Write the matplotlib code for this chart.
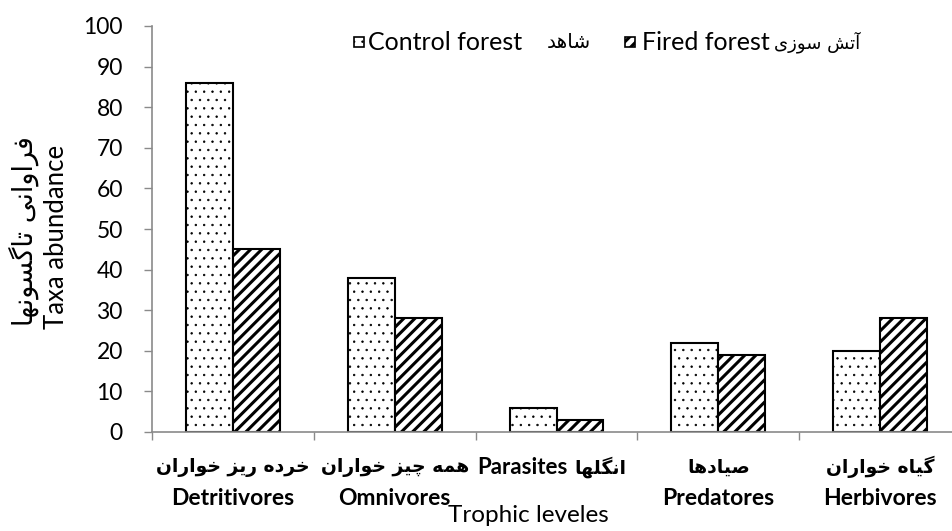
import matplotlib
matplotlib.use("Agg")
import matplotlib.pyplot as plt
from matplotlib.patches import Rectangle
import numpy as np

plt.rcParams["font.family"] = ["Lato", "DejaVu Sans"]

# ── Data ──────────────────────────────────────────────────
cat_en = ["Detritivores", "Omnivores", "Parasites", "Predatores", "Herbivores"]
cat_fa = ["خرده ریز خواران", "همه چیز خواران", "انگلها", "صیادها", "گیاه خواران"]
control = [86, 38, 6, 22, 20]
fired = [45, 28, 3, 19, 28]
yticks = [0, 10, 20, 30, 40, 50, 60, 70, 80, 90, 100]

# ── Minimal Persian shaping (presentation forms, visual order) ──
# letter: (isolated, final, initial, medial) ; None = right-joining only
FORMS = {
    "ا": ("\uFE8D", "\uFE8E", None, None),
    "آ": ("\uFE81", "\uFE82", None, None),
    "د": ("\uFEA9", "\uFEAA", None, None),
    "ر": ("\uFEAD", "\uFEAE", None, None),
    "ز": ("\uFEAF", "\uFEB0", None, None),
    "و": ("\uFEED", "\uFEEE", None, None),
    "ش": ("\uFEB5", "\uFEB6", "\uFEB7", "\uFEB8"),
    "ه": ("\uFEE9", "\uFEEA", "\uFEEB", "\uFEEC"),
    "ت": ("\uFE95", "\uFE96", "\uFE97", "\uFE98"),
    "س": ("\uFEB1", "\uFEB2", "\uFEB3", "\uFEB4"),
    "ی": ("\uFBFC", "\uFBFD", "\uFBFE", "\uFBFF"),
    "ف": ("\uFED1", "\uFED2", "\uFED3", "\uFED4"),
    "ن": ("\uFEE5", "\uFEE6", "\uFEE7", "\uFEE8"),
    "گ": ("\uFB92", "\uFB93", "\uFB94", "\uFB95"),
    "خ": ("\uFEA5", "\uFEA6", "\uFEA7", "\uFEA8"),
    "م": ("\uFEE1", "\uFEE2", "\uFEE3", "\uFEE4"),
    "چ": ("\uFB7A", "\uFB7B", "\uFB7C", "\uFB7D"),
    "ل": ("\uFEDD", "\uFEDE", "\uFEDF", "\uFEE0"),
    "ص": ("\uFEB9", "\uFEBA", "\uFEBB", "\uFEBC"),
}


def fa(s):
    out = []
    for i, c in enumerate(s):
        if c not in FORMS:
            out.append(c)
            continue
        dual = FORMS[c][2] is not None
        prev = s[i - 1] if i > 0 else ""
        nxt = s[i + 1] if i + 1 < len(s) else ""
        pj = prev in FORMS and FORMS[prev][2] is not None
        nj = dual and nxt in FORMS
        if pj and nj:
            out.append(FORMS[c][3])
        elif pj:
            out.append(FORMS[c][1])
        elif nj:
            out.append(FORMS[c][2])
        else:
            out.append(FORMS[c][0])
    return "".join(reversed(out))


def set_hatch_lw(patches, lw):
    # hatch width: per-patch setter if present, else rc value at draw time
    for p in patches:
        if hasattr(p, "set_hatch_linewidth"):
            p.set_hatch_linewidth(lw)
        else:
            p._hatch_linewidth = lw
        orig = p.draw

        def draw(renderer, _orig=orig):
            with plt.rc_context({"hatch.linewidth": lw}):
                _orig(renderer)
        p.draw = draw


# ── Figure ────────────────────────────────────────────────
GREY = "#8a8a8a"
DOT_LW, STRIPE_LW = 0.5, 2.2
W, H = 953, 531
fig = plt.figure(figsize=(W / 100, H / 100), dpi=100, facecolor="white")
ax = fig.add_axes([152 / W, 1 - 432 / H, 809 / W, 406 / H])

x = np.arange(len(cat_en))
w = 0.29
b1 = ax.bar(x - w / 2, control, w, color="white", edgecolor="black",
            linewidth=1.5, hatch="..", zorder=2)
b2 = ax.bar(x + w / 2, fired, w, color="white", edgecolor="black",
            linewidth=1.5, hatch="///", zorder=2)
set_hatch_lw(b1, DOT_LW)
set_hatch_lw(b2, STRIPE_LW)

ax.set_xlim(-0.5, len(cat_en) - 0.5)
ax.set_ylim(0, 100)
ax.set_yticks(yticks)
ax.tick_params(axis="y", labelsize=16.5, length=6, color=GREY, width=1, pad=15)
ax.set_xticks(np.arange(len(cat_en) + 1) - 0.5)
ax.set_xticklabels([])
ax.tick_params(axis="x", length=6, color=GREY, width=1)
for side in ["top", "right"]:
    ax.spines[side].set_visible(False)
for side in ["left", "bottom"]:
    ax.spines[side].set_color(GREY)
    ax.spines[side].set_linewidth(1.2)
    ax.spines[side].set_zorder(3)

# category labels
for i in x:
    if cat_en[i] == "Parasites":
        ax.annotate(cat_en[i], (i, -8.7), xytext=(8, 0),
                    textcoords="offset points", ha="right", va="center",
                    fontsize=16, fontweight="bold", annotation_clip=False)
        ax.annotate(fa(cat_fa[i]), (i, -8.7), xytext=(13, 0),
                    textcoords="offset points", ha="left", va="center",
                    fontsize=13.5, fontweight="bold", family="DejaVu Sans",
                    annotation_clip=False)
    else:
        ax.text(i, -8.7, fa(cat_fa[i]), ha="center", va="center",
                fontsize=13.5, fontweight="bold", family="DejaVu Sans")
        ax.text(i, -16.5, cat_en[i], ha="center", va="center",
                fontsize=16.5, fontweight="bold")

fig.text(528 / W, 1 - 516 / H, "Trophic leveles", ha="center", va="center",
         fontsize=17.5)
fig.text(57 / W, 1 - 237 / H, "Taxa abundance", ha="center", va="center",
         rotation=90, fontsize=18.5)
fig.text(24 / W, 1 - 231 / H, fa("فراوانی تاگسونها"), ha="center",
         va="center", rotation=90, fontsize=19.5, family="DejaVu Sans")

# legend (drawn by hand to follow the original spacing)
ly = 1 - 42 / H
sq_w, sq_h = 10 / W, 10 / H
leg_control = Rectangle((354 / W, ly - sq_h / 2), sq_w, sq_h,
                        transform=fig.transFigure, facecolor="white",
                        edgecolor="black", linewidth=1.2, hatch="..")
leg_fired = Rectangle((625 / W, ly - sq_h / 2), sq_w, sq_h,
                      transform=fig.transFigure, facecolor="white",
                      edgecolor="black", linewidth=1.2, hatch="///")
fig.add_artist(leg_control)
fig.add_artist(leg_fired)
set_hatch_lw([leg_control], DOT_LW)
set_hatch_lw([leg_fired], STRIPE_LW)
fig.text(368 / W, ly, "Control forest", ha="left", va="center", fontsize=18)
fig.text(547 / W, ly, fa("شاهد"), ha="left", va="center", fontsize=14.5,
         family="DejaVu Sans")
fig.text(642 / W, ly, "Fired forest", ha="left", va="center", fontsize=18)
fig.text(774 / W, ly, fa("آتش سوزی"), ha="left", va="center", fontsize=13,
         family="DejaVu Sans")

fig.savefig("out.png", dpi=100, facecolor="white")
